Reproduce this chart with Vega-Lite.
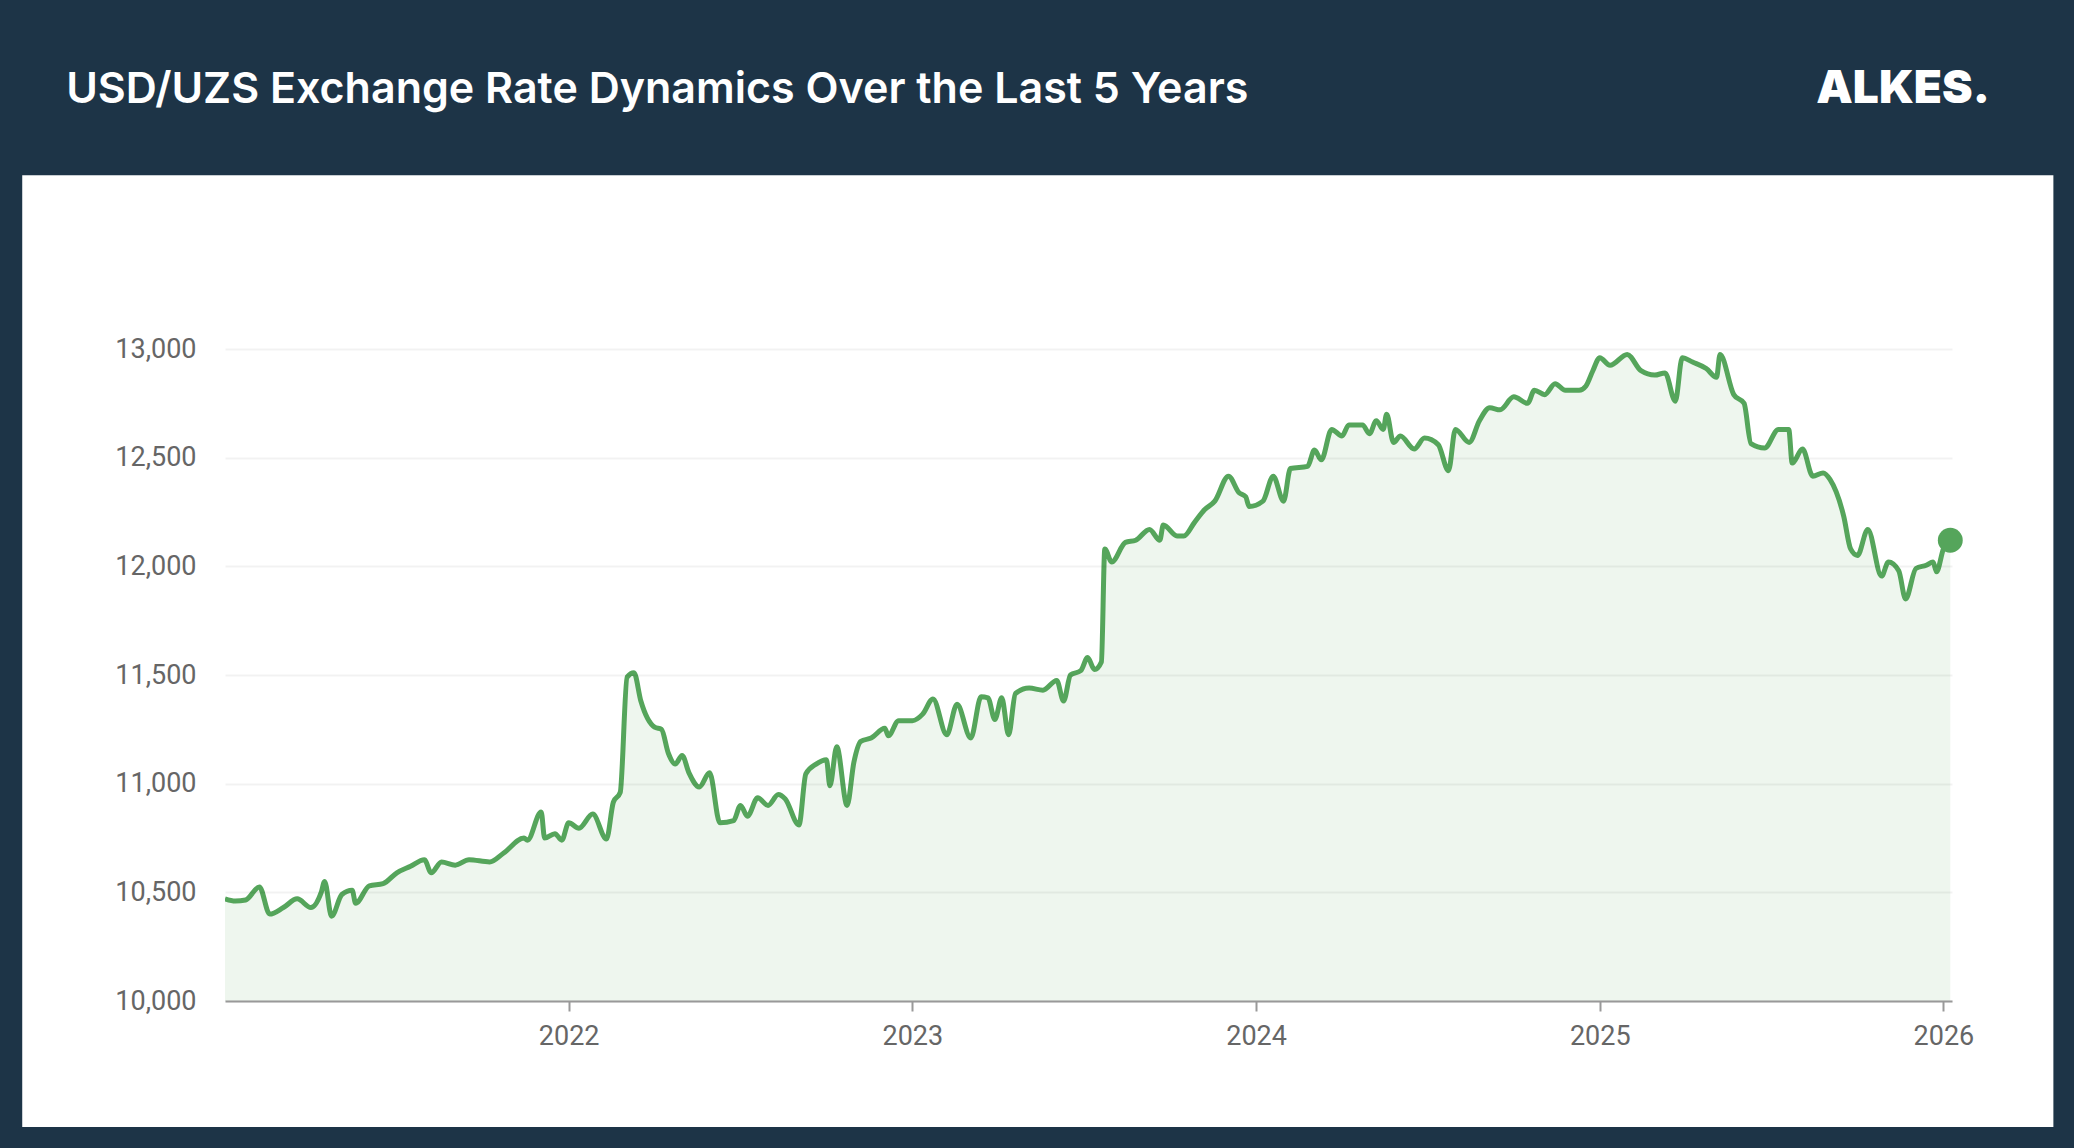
{
  "$schema": "https://vega.github.io/schema/vega-lite/v6.json",
  "autosize": "none",
  "width": 1727,
  "height": 652,
  "padding": {"left": 225, "top": 349, "right": 122, "bottom": 147},
  "background": "#1d3447",
  "config": {"view": {"stroke": null}, "font": "Roboto"},
  "data": {"values": [
    {"year": 2021.00, "rate": 10470}, {"year": 2021.03, "rate": 10460}, {"year": 2021.06, "rate": 10465},
    {"year": 2021.10, "rate": 10525}, {"year": 2021.13, "rate": 10400}, {"year": 2021.17, "rate": 10430},
    {"year": 2021.21, "rate": 10470}, {"year": 2021.25, "rate": 10430}, {"year": 2021.28, "rate": 10500},
    {"year": 2021.29, "rate": 10550}, {"year": 2021.31, "rate": 10390}, {"year": 2021.34, "rate": 10490},
    {"year": 2021.37, "rate": 10510}, {"year": 2021.38, "rate": 10450}, {"year": 2021.42, "rate": 10530},
    {"year": 2021.46, "rate": 10540}, {"year": 2021.50, "rate": 10590}, {"year": 2021.54, "rate": 10620},
    {"year": 2021.58, "rate": 10650}, {"year": 2021.60, "rate": 10590}, {"year": 2021.63, "rate": 10640},
    {"year": 2021.67, "rate": 10625}, {"year": 2021.71, "rate": 10650}, {"year": 2021.77, "rate": 10640},
    {"year": 2021.81, "rate": 10680}, {"year": 2021.87, "rate": 10750}, {"year": 2021.88, "rate": 10740},
    {"year": 2021.92, "rate": 10870}, {"year": 2021.93, "rate": 10750}, {"year": 2021.96, "rate": 10770},
    {"year": 2021.98, "rate": 10740}, {"year": 2022.00, "rate": 10820}, {"year": 2022.03, "rate": 10795},
    {"year": 2022.07, "rate": 10860}, {"year": 2022.11, "rate": 10745}, {"year": 2022.13, "rate": 10915},
    {"year": 2022.15, "rate": 10960}, {"year": 2022.17, "rate": 11490}, {"year": 2022.19, "rate": 11510},
    {"year": 2022.21, "rate": 11380}, {"year": 2022.25, "rate": 11260}, {"year": 2022.27, "rate": 11250},
    {"year": 2022.29, "rate": 11140}, {"year": 2022.31, "rate": 11090}, {"year": 2022.33, "rate": 11130},
    {"year": 2022.35, "rate": 11050}, {"year": 2022.38, "rate": 10985}, {"year": 2022.41, "rate": 11050},
    {"year": 2022.44, "rate": 10820}, {"year": 2022.48, "rate": 10830}, {"year": 2022.50, "rate": 10900},
    {"year": 2022.52, "rate": 10850}, {"year": 2022.55, "rate": 10935}, {"year": 2022.58, "rate": 10900},
    {"year": 2022.61, "rate": 10950}, {"year": 2022.63, "rate": 10930}, {"year": 2022.67, "rate": 10810},
    {"year": 2022.69, "rate": 11045}, {"year": 2022.72, "rate": 11090}, {"year": 2022.75, "rate": 11110},
    {"year": 2022.76, "rate": 10990}, {"year": 2022.78, "rate": 11170}, {"year": 2022.81, "rate": 10900},
    {"year": 2022.83, "rate": 11100}, {"year": 2022.85, "rate": 11195}, {"year": 2022.88, "rate": 11210},
    {"year": 2022.92, "rate": 11255}, {"year": 2022.93, "rate": 11220}, {"year": 2022.96, "rate": 11290},
    {"year": 2023.00, "rate": 11290}, {"year": 2023.03, "rate": 11320}, {"year": 2023.06, "rate": 11390},
    {"year": 2023.10, "rate": 11225}, {"year": 2023.13, "rate": 11365}, {"year": 2023.17, "rate": 11210},
    {"year": 2023.20, "rate": 11400}, {"year": 2023.22, "rate": 11395}, {"year": 2023.24, "rate": 11295},
    {"year": 2023.26, "rate": 11395}, {"year": 2023.28, "rate": 11225}, {"year": 2023.30, "rate": 11415},
    {"year": 2023.34, "rate": 11440}, {"year": 2023.38, "rate": 11430}, {"year": 2023.42, "rate": 11475},
    {"year": 2023.44, "rate": 11380}, {"year": 2023.46, "rate": 11500}, {"year": 2023.49, "rate": 11520},
    {"year": 2023.51, "rate": 11580}, {"year": 2023.53, "rate": 11525}, {"year": 2023.55, "rate": 11560},
    {"year": 2023.56, "rate": 12080}, {"year": 2023.58, "rate": 12020}, {"year": 2023.62, "rate": 12110},
    {"year": 2023.65, "rate": 12120}, {"year": 2023.69, "rate": 12170}, {"year": 2023.72, "rate": 12120},
    {"year": 2023.73, "rate": 12190}, {"year": 2023.77, "rate": 12140}, {"year": 2023.79, "rate": 12140},
    {"year": 2023.82, "rate": 12200}, {"year": 2023.85, "rate": 12260}, {"year": 2023.88, "rate": 12300},
    {"year": 2023.92, "rate": 12415}, {"year": 2023.95, "rate": 12340}, {"year": 2023.97, "rate": 12320},
    {"year": 2023.98, "rate": 12275}, {"year": 2024.02, "rate": 12300}, {"year": 2024.05, "rate": 12415},
    {"year": 2024.08, "rate": 12300}, {"year": 2024.10, "rate": 12450}, {"year": 2024.15, "rate": 12460},
    {"year": 2024.17, "rate": 12535}, {"year": 2024.19, "rate": 12490}, {"year": 2024.22, "rate": 12630},
    {"year": 2024.25, "rate": 12600}, {"year": 2024.27, "rate": 12650}, {"year": 2024.31, "rate": 12650},
    {"year": 2024.33, "rate": 12610}, {"year": 2024.35, "rate": 12670}, {"year": 2024.37, "rate": 12630},
    {"year": 2024.38, "rate": 12700}, {"year": 2024.40, "rate": 12570}, {"year": 2024.42, "rate": 12600},
    {"year": 2024.46, "rate": 12540}, {"year": 2024.49, "rate": 12590}, {"year": 2024.53, "rate": 12560},
    {"year": 2024.56, "rate": 12440}, {"year": 2024.58, "rate": 12630}, {"year": 2024.62, "rate": 12570},
    {"year": 2024.65, "rate": 12670}, {"year": 2024.68, "rate": 12730}, {"year": 2024.71, "rate": 12720},
    {"year": 2024.75, "rate": 12780}, {"year": 2024.79, "rate": 12750}, {"year": 2024.81, "rate": 12810},
    {"year": 2024.84, "rate": 12790}, {"year": 2024.87, "rate": 12840}, {"year": 2024.90, "rate": 12810},
    {"year": 2024.94, "rate": 12810}, {"year": 2024.96, "rate": 12830}, {"year": 2024.98, "rate": 12900},
    {"year": 2025.00, "rate": 12960}, {"year": 2025.03, "rate": 12925}, {"year": 2025.08, "rate": 12975},
    {"year": 2025.12, "rate": 12900}, {"year": 2025.16, "rate": 12880}, {"year": 2025.19, "rate": 12890},
    {"year": 2025.22, "rate": 12760}, {"year": 2025.24, "rate": 12960}, {"year": 2025.27, "rate": 12940},
    {"year": 2025.31, "rate": 12910}, {"year": 2025.34, "rate": 12870}, {"year": 2025.35, "rate": 12975},
    {"year": 2025.39, "rate": 12790}, {"year": 2025.42, "rate": 12750}, {"year": 2025.44, "rate": 12565},
    {"year": 2025.48, "rate": 12545}, {"year": 2025.52, "rate": 12630}, {"year": 2025.55, "rate": 12630},
    {"year": 2025.56, "rate": 12475}, {"year": 2025.59, "rate": 12540}, {"year": 2025.62, "rate": 12415},
    {"year": 2025.65, "rate": 12430}, {"year": 2025.67, "rate": 12400}, {"year": 2025.71, "rate": 12230},
    {"year": 2025.73, "rate": 12080}, {"year": 2025.75, "rate": 12050}, {"year": 2025.78, "rate": 12170},
    {"year": 2025.82, "rate": 11955}, {"year": 2025.84, "rate": 12020}, {"year": 2025.87, "rate": 11980},
    {"year": 2025.89, "rate": 11850}, {"year": 2025.92, "rate": 11990}, {"year": 2025.95, "rate": 12005},
    {"year": 2025.97, "rate": 12020}, {"year": 2025.98, "rate": 11975}, {"year": 2026.00, "rate": 12080},
    {"year": 2026.02, "rate": 12120}
  ]},
  "layer": [
    {
      "data": {"values": [{"x1": 2020.41, "x2": 2026.32, "y1": 9420, "y2": 13800}]},
      "mark": {"type": "rect", "color": "#ffffff", "clip": false},
      "encoding": {
        "x": {"field": "x1", "type": "quantitative"},
        "x2": {"field": "x2"},
        "y": {"field": "y1", "type": "quantitative"},
        "y2": {"field": "y2"}
      }
    },
    {
      "data": {"values": [{"x": 2026.135, "y": 14130, "label": "ALKES."}]},
      "mark": {"type": "text", "clip": false, "align": "right", "baseline": "alphabetic", "color": "#ffffff", "fontSize": 46, "fontWeight": 900, "font": "Inter"},
      "encoding": {
        "x": {"field": "x", "type": "quantitative"},
        "y": {"field": "y", "type": "quantitative"},
        "text": {"field": "label"}
      }
    },
    {
      "data": {"values": [{"x": 2020.538, "y": 14130, "label": "USD/UZS Exchange Rate Dynamics Over the Last 5 Years"}]},
      "mark": {"type": "text", "clip": false, "align": "left", "baseline": "alphabetic", "color": "#ffffff", "fontSize": 43, "fontWeight": 600, "font": "Inter"},
      "encoding": {
        "x": {"field": "x", "type": "quantitative"},
        "y": {"field": "y", "type": "quantitative"},
        "text": {"field": "label"}
      }
    },
    {
      "mark": {"type": "area", "clip": true, "interpolate": "monotone", "color": "#55a55b", "opacity": 0.1},
      "encoding": {
        "x": {"field": "year", "type": "quantitative"},
        "y": {"field": "rate", "type": "quantitative"}
      }
    },
    {
      "mark": {"type": "line", "color": "#55a55b", "strokeWidth": 5, "clip": true, "interpolate": "monotone"},
      "encoding": {
        "x": {
          "field": "year", "type": "quantitative",
          "scale": {"domain": [2021.0, 2026.025], "nice": false, "zero": false},
          "axis": {
            "title": null, "values": [2022, 2023, 2024, 2025, 2026], "format": "d", "zindex": 1,
            "grid": false, "domainColor": "#999999", "domainWidth": 2, "tickColor": "#999999", "tickWidth": 2, "tickSize": 10,
            "labelFontSize": 27, "labelColor": "#666666", "labelPadding": 12, "labelFont": "Roboto"
          }
        },
        "y": {
          "field": "rate", "type": "quantitative",
          "scale": {"domain": [10000, 13000], "nice": false, "zero": false},
          "axis": {
            "title": null, "values": [10000, 10500, 11000, 11500, 12000, 12500, 13000], "format": ",.0f", "zindex": 1,
            "domain": false, "ticks": false, "gridColor": "#000000", "gridOpacity": 0.05, "gridWidth": 2,
            "labelFontSize": 27, "labelColor": "#666666", "labelPadding": 29, "labelFont": "Roboto"
          }
        }
      }
    },
    {
      "transform": [{"filter": "datum.year >= 2026.02"}],
      "mark": {"type": "point", "filled": true, "color": "#55a55b", "size": 620, "opacity": 1, "clip": false},
      "encoding": {
        "x": {"field": "year", "type": "quantitative"},
        "y": {"field": "rate", "type": "quantitative"}
      }
    }
  ]
}
